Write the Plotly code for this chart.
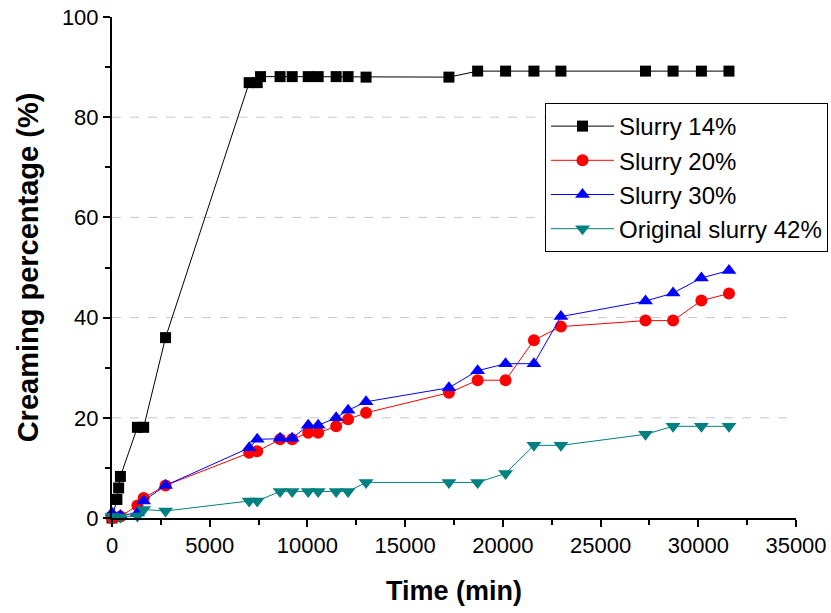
import plotly.graph_objects as go

# Creaming percentage versus time for four slurry concentrations
t_14 = [0, 250, 340, 430, 1300, 1620, 2740, 7020, 7430, 7600, 8600, 9220, 10040,
        10550, 11470, 12080, 13000, 17240, 18710, 20140, 21590, 22970, 27300,
        28710, 30160, 31570]
y_14 = [0, 3.7, 6.0, 8.3, 18.1, 18.1, 36.0, 86.9, 86.9, 88.1, 88.1, 88.1, 88.1,
        88.1, 88.1, 88.1, 88.0, 88.0, 89.2, 89.2, 89.2, 89.2, 89.2, 89.2, 89.2, 89.2]

t_20 = [0, 430, 1300, 1620, 2740, 7020, 7430, 8600, 9220, 10040, 10550, 11470,
        12080, 13000, 17240, 18710, 20140, 21590, 22970, 27300, 28710, 30160, 31570]
y_20 = [0, 0.3, 2.5, 4.0, 6.5, 13.0, 13.3, 15.7, 15.7, 17.0, 17.0, 18.3, 19.7,
        21.0, 25.0, 27.5, 27.5, 35.5, 38.2, 39.4, 39.4, 43.4, 44.8]

t_30 = [0, 430, 1300, 1620, 2740, 7020, 7430, 8600, 9220, 10040, 10550, 11470,
        12080, 13000, 17240, 18710, 20140, 21590, 22970, 27300, 28710, 30160, 31570]
y_30 = [1.0, 0.5, 1.0, 3.4, 6.5, 14.0, 15.7, 15.9, 15.9, 18.5, 18.5, 20.0, 21.5,
        23.2, 26.0, 29.4, 30.8, 30.8, 40.2, 43.3, 44.9, 47.9, 49.4]

t_42 = [0, 430, 1300, 1620, 2740, 7020, 7430, 8600, 9220, 10040, 10550, 11470,
        12080, 13000, 17240, 18710, 20140, 21590, 22970, 27300, 28710, 30160, 31570]
y_42 = [0.3, 0.2, 0.4, 1.7, 1.4, 3.4, 3.4, 5.3, 5.3, 5.3, 5.3, 5.3, 5.3, 7.1,
        7.1, 7.1, 8.9, 14.5, 14.5, 16.7, 18.3, 18.3, 18.3]

series_names = ["Slurry 14%", "Slurry 20%", "Slurry 30%", "Original slurry 42%"]
grid_levels = [20, 40, 60, 80]

FONT = "Liberation Sans, Arial, sans-serif"

fig = go.Figure()

styles = [
    (t_14, y_14, "#000000", "square", 11),
    (t_20, y_20, "#ff0000", "circle", 12),
    (t_30, y_30, "#0000ff", "triangle-up", 13),
    (t_42, y_42, "#008080", "triangle-down", 13),
]
for name, (tx, ty, col, sym, sz) in zip(series_names, styles):
    fig.add_trace(go.Scatter(
        x=tx, y=ty, name=name, mode="lines+markers",
        line=dict(color=col, width=1),
        marker=dict(symbol=sym, size=sz, color=col, line=dict(width=0)),
        cliponaxis=False,
    ))

# dashed horizontal guide lines
for g in grid_levels:
    fig.add_shape(type="line", xref="paper", yref="y", x0=0, x1=1, y0=g, y1=g,
                  line=dict(color="#c8c8c8", width=1, dash="dash"), layer="below")

tick_font = dict(family=FONT, size=22, color="black")

fig.update_layout(
    width=831, height=613,
    margin=dict(l=112, r=35, t=17, b=95, autoexpand=False),
    paper_bgcolor="white", plot_bgcolor="white",
    showlegend=True,
    legend=dict(
        xref="container", yref="container",
        x=828 / 831, xanchor="right", y=1 - 103 / 613, yanchor="top",
        bgcolor="white", bordercolor="black", borderwidth=1,
        font=dict(family=FONT, size=24, color="black"),
        tracegroupgap=0, itemwidth=63,
    ),
    xaxis=dict(
        range=[0, 35000], dtick=5000, tick0=0, tickformat="d",
        showgrid=False, zeroline=False, automargin=False,
        showline=True, linecolor="black", linewidth=2,
        ticks="outside", ticklen=7, tickwidth=2, tickcolor="black",
        minor=dict(dtick=2500, ticks="outside", ticklen=5, tickwidth=2, tickcolor="black"),
        tickfont=tick_font,
        title=dict(text="<b>Time (min)</b>",
                   font=dict(family=FONT, size=27, color="black"),
                   standoff=24),
    ),
    yaxis=dict(
        range=[0, 100], dtick=20, tick0=0,
        showgrid=False, zeroline=False, automargin=False,
        showline=True, linecolor="black", linewidth=2,
        ticks="outside", ticklen=7, tickwidth=2, tickcolor="black",
        minor=dict(dtick=10, ticks="outside", ticklen=5, tickwidth=2, tickcolor="black"),
        tickfont=tick_font,
        title=dict(text="<b>Creaming percentage (%)</b>",
                   font=dict(family=FONT, size=29, color="black"),
                   standoff=15),
    ),
)

fig.write_html("out.html")
